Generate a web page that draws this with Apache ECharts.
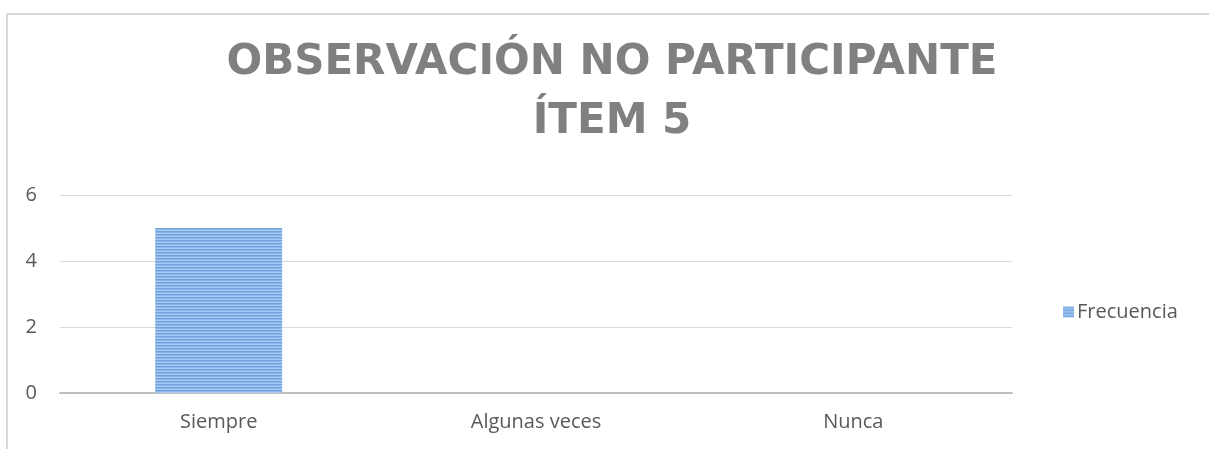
<!DOCTYPE html>
<html>
<head>
<meta charset="utf-8">
<script src="https://cdn.jsdelivr.net/npm/echarts@6/dist/echarts.min.js"></script>
<style>
  html, body { margin: 0; padding: 0; background: #fff; }
  #chart { width: 1209px; height: 449px; }
</style>
</head>
<body>
<div id="chart"></div>
<script>
// datos del gráfico
const categorias = ['Siempre', 'Algunas veces', 'Nunca'];
const frecuencia = [5, 0, 0];
const nombreSerie = 'Frecuencia';
const tituloTexto = 'OBSERVACIÓN NO PARTICIPANTE\nÍTEM 5';

// relleno rayado horizontal de la barra
function rayas() {
  const c = document.createElement('canvas');
  c.width = 4;
  c.height = 3;
  const ctx = c.getContext('2d');
  ctx.fillStyle = '#a9caee';
  ctx.fillRect(0, 0, 4, 3);
  ctx.fillStyle = '#6fa3e0';
  ctx.fillRect(0, 0, 4, 1);
  ctx.fillStyle = '#8cb6e8';
  ctx.fillRect(0, 1, 4, 1);
  return c;
}

const chart = echarts.init(document.getElementById('chart'));
const relleno = { image: rayas(), repeat: 'repeat' };

chart.setOption({
  animation: false,
  textStyle: { fontFamily: 'Open Sans' },
  title: {
    text: tituloTexto,
    left: 607,
    top: 29,
    textAlign: 'center',
    textStyle: {
      fontFamily: 'DejaVu Sans',
      fontWeight: 'bold',
      fontSize: 42,
      lineHeight: 59,
      color: '#808080'
    }
  },
  graphic: [
    { type: 'line', shape: { x1: 7, y1: 14, x2: 1209, y2: 14 }, style: { stroke: '#d9d9d9', lineWidth: 2 } },
    { type: 'line', shape: { x1: 7, y1: 14, x2: 7, y2: 449 }, style: { stroke: '#d9d9d9', lineWidth: 2 } }
  ],
  legend: {
    left: 1058,
    top: 297,
    orient: 'vertical',
    itemWidth: 11,
    itemHeight: 11,
    itemGap: 6,
    data: [{ name: nombreSerie, icon: 'rect' }],
    textStyle: { fontSize: 20, color: '#595959', padding: [0, 0, 0, -2] }
  },
  grid: {
    left: 60,
    right: 197,
    top: 195,
    bottom: 56
  },
  xAxis: {
    type: 'category',
    data: categorias,
    axisTick: { show: false },
    axisLine: { lineStyle: { color: '#bfbfbf', width: 2 } },
    axisLabel: { color: '#595959', fontSize: 20, margin: 19 }
  },
  yAxis: {
    type: 'value',
    min: 0,
    max: 6,
    interval: 2,
    axisLine: { show: false },
    axisTick: { show: false },
    splitLine: { lineStyle: { color: '#d9d9d9', width: 1 } },
    axisLabel: { color: '#595959', fontSize: 20, margin: 23 }
  },
  series: [{
    name: nombreSerie,
    type: 'bar',
    data: frecuencia,
    barWidth: '40%',
    itemStyle: {
      color: relleno
    }
  }]
});
</script>
</body>
</html>
